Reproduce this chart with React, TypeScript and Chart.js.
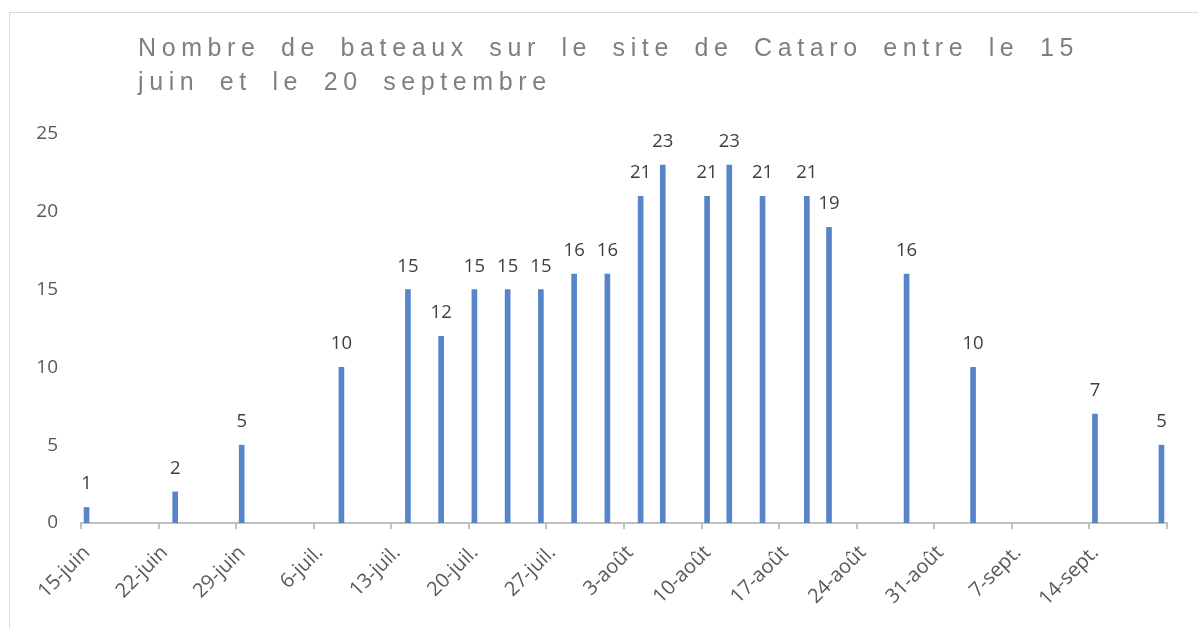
import React, { useEffect, useRef } from "react";
import { Chart, registerables } from "chart.js";

Chart.register(...registerables);

const titleLine1 = "Nombre de bateaux sur le site de Cataro entre le 15";
const titleLine2 = "juin et le 20 septembre";

const startDate = "2020-06-15";
const dates = [
  "2020-06-15", "2020-06-23", "2020-06-29", "2020-07-08", "2020-07-14", "2020-07-17",
  "2020-07-20", "2020-07-23", "2020-07-26", "2020-07-29", "2020-08-01", "2020-08-04",
  "2020-08-06", "2020-08-10", "2020-08-12", "2020-08-15", "2020-08-19", "2020-08-21",
  "2020-08-28", "2020-09-03", "2020-09-14", "2020-09-20",
];
const boats = [1, 2, 5, 10, 15, 12, 15, 15, 15, 16, 16, 21, 23, 21, 23, 21, 21, 19, 16, 10, 7, 5];
const tickLabels = [
  "15-juin", "22-juin", "29-juin", "6-juil.", "13-juil.", "20-juil.", "27-juil.",
  "3-août", "10-août", "17-août", "24-août", "31-août", "7-sept.", "14-sept.", "",
];
const yTicks = [0, 5, 10, 15, 20, 25];

const DAY = 86400000;
const dayOf = (d: string) => Math.round((Date.parse(d) - Date.parse(startDate)) / DAY);

export default function App() {
  const ref = useRef<HTMLCanvasElement | null>(null);

  useEffect(() => {
    let chart: Chart | null = null;
    let cancelled = false;
    const labelPlugin = {
      id: "valueLabels",
      afterDatasetsDraw(c: any) {
        const ctx = c.ctx;
        const meta = c.getDatasetMeta(0);
        ctx.save();
        ctx.font = '18.5px "Open Sans"';
        ctx.fillStyle = "#404040";
        ctx.textAlign = "center";
        ctx.textBaseline = "alphabetic";
        meta.data.forEach((el: any, i: number) => {
          ctx.fillText(String(boats[i]), el.x, el.y - 18);
        });
        ctx.restore();
      },
    };
    const make = () => {
      if (cancelled || !ref.current) return;
      chart = new Chart(ref.current, {
        type: "bar",
        data: {
          datasets: [
            {
              data: dates.map((d, i) => ({ x: dayOf(d) + 0.5, y: boats[i] })),
              backgroundColor: "#5685c8",
              borderWidth: 0,
              barThickness: 5,
            },
          ],
        },
        options: {
          animation: false,
          responsive: false,
          devicePixelRatio: 1,
          layout: { padding: { left: 0, top: 134, right: 31, bottom: 0 } },
          plugins: { legend: { display: false }, tooltip: { enabled: false }, title: { display: false } },
          scales: {
            x: {
              type: "linear",
              min: 0,
              max: 98,
              offset: false,
              afterFit: (s: any) => { s.height = 105; },
              ticks: {
                stepSize: 7,
                autoSkip: false,
                minRotation: 45,
                maxRotation: 45,
                padding: 12,
                labelOffset: 6,
                color: "#595959",
                font: { family: "Open Sans", size: 20 },
                callback: (v: any) => tickLabels[Math.round(Number(v) / 7)] ?? "",
              },
              grid: {
                display: true,
                drawOnChartArea: false,
                drawTicks: true,
                tickLength: 6,
                offset: false,
                color: "#c0c0c0",
                lineWidth: 2,
              },
              border: { display: true, color: "#c0c0c0", width: 2 },
            },
            y: {
              min: 0,
              max: 25,
              afterFit: (s: any) => { s.width = 81; },
              afterBuildTicks: (s: any) => { s.ticks = yTicks.map((v) => ({ value: v })); },
              ticks: {
                padding: 23,
                color: "#595959",
                font: { family: "Open Sans", size: 19 },
              },
              grid: { display: false, drawTicks: false },
              border: { display: false },
            },
          },
        },
        plugins: [labelPlugin],
      } as any);
    };
    (document as any).fonts
      ? Promise.all([
          (document as any).fonts.load('18px "Open Sans"'),
          (document as any).fonts.load('24px "Liberation Sans"'),
        ]).then(make, make)
      : make();
    return () => {
      cancelled = true;
      if (chart) chart.destroy();
    };
  }, []);

  return (
    <div style={{ position: "absolute", left: 0, top: 0, width: 1198, height: 628, overflow: "hidden", background: "#fff" }}>
      <div
        style={{
          position: "absolute",
          left: 9,
          top: 12,
          width: 1400,
          height: 800,
          borderLeft: "1px solid #d9d9d9",
          borderTop: "1px solid #d9d9d9",
        }}
      />
      <canvas ref={ref} width={1198} height={628} style={{ position: "absolute", left: 0, top: 0, width: 1198, height: 628 }} />
      <div
        style={{
          position: "absolute",
          left: 138,
          top: 30,
          fontFamily: '"Liberation Sans", Arial, sans-serif',
          fontSize: 25,
          lineHeight: "34px",
          color: "#7f7f7f",
          letterSpacing: "5.6px",
          wordSpacing: "8px",
          whiteSpace: "nowrap",
        }}
      >
        <div>{titleLine1}</div>
        <div>{titleLine2}</div>
      </div>
    </div>
  );
}
